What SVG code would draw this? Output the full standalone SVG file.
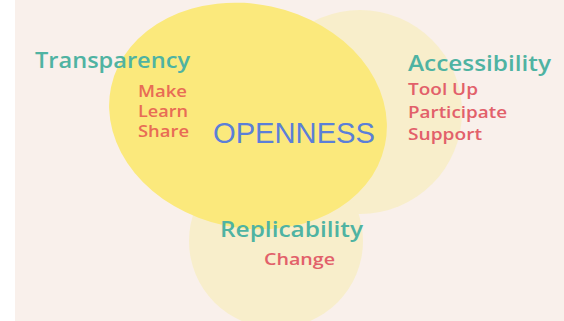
<svg xmlns="http://www.w3.org/2000/svg" width="564" height="321" viewBox="0 0 564 321">
  <style>
    .head { font-family: "Open Sans", "Liberation Sans", sans-serif; font-weight: 600; font-size: 21px; fill: #4fb3a2; }
    .item { font-family: "Open Sans", "Liberation Sans", sans-serif; font-weight: 600; font-size: 16px; }
    .warm { fill: #e86c55; }
    .rose { fill: #e2606a; }
    .core { font-family: "Liberation Sans", Arial, sans-serif; font-size: 29.5px; fill: #5b7fd8; }
    .pale { fill: #f8eecb; }
    .bright { fill: #fbe97c; }
  </style>

  <!-- page -->
  <rect x="0" y="0" width="564" height="321" fill="#ffffff"/>
  <rect x="15" y="0" width="549" height="321" fill="#f9f0eb"/>

  <!-- overlapping areas -->
  <g id="areas">
    <circle class="pale" cx="360" cy="112" r="102"/>
    <circle class="pale" cx="276" cy="241" r="87"/>
    <ellipse class="bright" cx="248" cy="116" rx="140" ry="112" transform="rotate(12 248 116)"/>
  </g>

  <g id="openness">
    <text class="core" x="213" y="143" textLength="162" lengthAdjust="spacingAndGlyphs">OPENNESS</text>
  </g>

  <g id="transparency">
    <text class="head" x="35" y="68" textLength="155" lengthAdjust="spacingAndGlyphs">Transparency</text>
    <text class="item warm" x="138" y="97" textLength="49" lengthAdjust="spacingAndGlyphs">Make</text>
    <text class="item warm" x="138" y="117" textLength="50" lengthAdjust="spacingAndGlyphs">Learn</text>
    <text class="item warm" x="138" y="137" textLength="51" lengthAdjust="spacingAndGlyphs">Share</text>
  </g>

  <g id="accessibility">
    <text class="head" x="408" y="71" textLength="143" lengthAdjust="spacingAndGlyphs">Accessibility</text>
    <text class="item rose" x="408" y="95" textLength="70" lengthAdjust="spacingAndGlyphs">Tool Up</text>
    <text class="item rose" x="408" y="118" textLength="99" lengthAdjust="spacingAndGlyphs">Participate</text>
    <text class="item rose" x="408" y="140" textLength="74" lengthAdjust="spacingAndGlyphs">Support</text>
  </g>

  <g id="replicability">
    <text class="head" x="220" y="237" textLength="143" lengthAdjust="spacingAndGlyphs">Replicability</text>
    <text class="item rose" x="264" y="265" textLength="71" lengthAdjust="spacingAndGlyphs">Change</text>
  </g>
</svg>
